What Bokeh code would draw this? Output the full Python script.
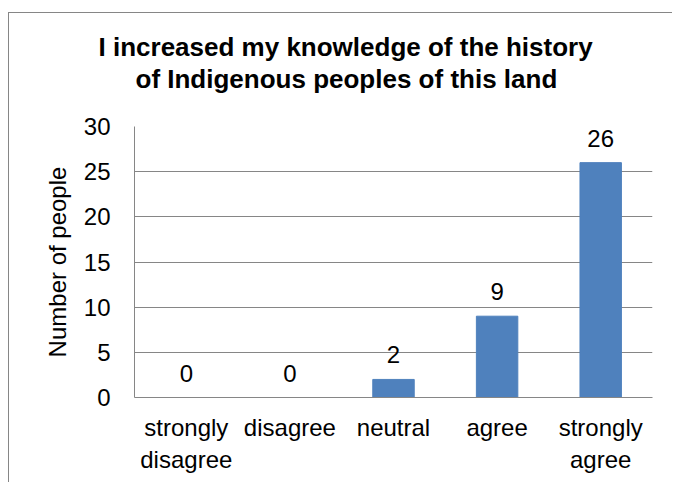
from bokeh.plotting import figure
from bokeh.models import ColumnDataSource, Range1d, FixedTicker, LabelSet, Title
from bokeh.core.properties import value
from bokeh.embed import file_html
from bokeh.resources import INLINE

categories = ["strongly\ndisagree", "disagree", "neutral", "agree", "strongly\nagree"]
counts = [0, 0, 2, 9, 26]
y_ticks = [0, 5, 10, 15, 20, 25, 30]
title_lines = ["I increased my knowledge of the history", "of Indigenous peoples of this land"]
y_label = "Number of people"

FONT = "Liberation Sans"
GRID = "#868686"
BAR = "#4F81BD"

source = ColumnDataSource(data=dict(cat=categories, n=counts, txt=[str(v) for v in counts]))

p = figure(x_range=categories, y_range=Range1d(0, 30), width=664, height=470,
           output_backend="svg", toolbar_location=None,
           min_border_left=125, min_border_right=21, min_border_top=113, min_border_bottom=86)
p.styles = {"border-left": "1px solid #868686", "border-top": "1px solid #868686",
            "margin-top": "12px", "margin-left": "8px"}

# spacer between frame and title, then line 2, then line 1 (stacked outward from the frame)
p.add_layout(Title(text=" ", standoff=1, text_font=FONT, text_font_size="26px",
                   text_line_height=1.0), "above")
for txt, off in [(title_lines[1], 1), (title_lines[0], -36)]:
    p.add_layout(Title(text=txt, align="left", offset=off, standoff=0,
                       text_font=FONT, text_font_size="26px", text_font_style="bold",
                       text_color="black", text_line_height=1.0), "above")

p.vbar(x="cat", top="n", width=0.4, source=source, color=BAR)

labels = LabelSet(x="cat", y="n", text="txt", source=source, text_align="center",
                  text_baseline="alphabetic", y_offset=16, text_font=value(FONT),
                  text_font_size="24px", text_color="black")
p.add_layout(labels)

p.outline_line_color = None
p.xgrid.grid_line_color = None
p.ygrid.grid_line_color = GRID
p.ygrid.grid_line_width = 1

p.yaxis.ticker = FixedTicker(ticks=y_ticks)
p.yaxis.axis_label = y_label
p.yaxis.axis_label_text_font = FONT
p.yaxis.axis_label_text_font_size = "24px"
p.yaxis.axis_label_text_font_style = "normal"
p.yaxis.axis_label_text_color = "black"
p.yaxis.axis_label_standoff = 10

for ax in (p.xaxis, p.yaxis):
    ax.axis_line_color = GRID
    ax.major_tick_line_color = None
    ax.minor_tick_line_color = None
    ax.major_tick_out = 0
    ax.major_tick_in = 0
    ax.major_label_text_font = FONT
    ax.major_label_text_font_size = "24px"
    ax.major_label_text_color = "black"

p.yaxis.major_label_standoff = 24
p.xaxis.major_label_standoff = 16

open("out.html", "w").write(file_html(p, INLINE))
